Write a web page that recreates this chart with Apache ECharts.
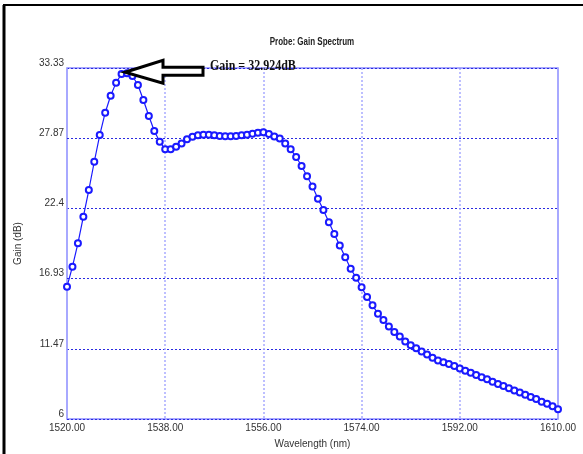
<!DOCTYPE html>
<html>
<head>
<meta charset="utf-8">
<script src="https://cdn.jsdelivr.net/npm/echarts@6/dist/echarts.min.js"></script>
<style>
  html, body { margin: 0; padding: 0; background: #fff; }
  #main { width: 583px; height: 454px; }
</style>
</head>
<body>
<div id="main"></div>
<script>
// wavelength start / step (nm), one sample per nm
var wlStart = 1520;
var wlStep = 1;
var gain = [
	16.30, 17.86, 19.68, 21.75, 23.83, 26.03, 28.11, 29.85, 31.17, 32.19,
	32.86, 32.924, 32.71, 32.01, 30.84, 29.59, 28.42, 27.59,
	27.00, 27.00, 27.20, 27.46, 27.78, 27.98, 28.09, 28.14, 28.14, 28.09,
	28.04, 28.01, 28.01, 28.04, 28.09, 28.14, 28.22, 28.29, 28.32, 28.20, 28.00,
	27.85, 27.45, 27.00, 26.40, 25.70, 24.90, 24.10, 23.15, 22.27, 21.32,
	20.40, 19.50, 18.60, 17.70, 17.00, 16.25, 15.50,
	14.85, 14.20, 13.70, 13.20, 12.78, 12.43, 12.04, 11.74, 11.51, 11.25,
	11.02, 10.77, 10.56, 10.42, 10.29, 10.12, 9.93, 9.76, 9.61, 9.42,
	9.25, 9.09, 8.91, 8.73, 8.57, 8.40, 8.22, 8.06, 7.89, 7.71,
	7.56, 7.35, 7.18, 7.00, 6.75
];
var yTickLabels = ['6', '11.47', '16.93', '22.4', '27.87', '33.33'];
var peakIndex = 11;
var peakText = 'Gain = 32.924dB';
var titleText = 'Probe: Gain Spectrum';

var dom = document.getElementById("main");
var myChart = echarts.init(dom);

var seriesData = [];
for (var i = 0; i < gain.length; i++) {
	seriesData.push([wlStart + i * wlStep, gain[i]]);
}

var labelFont = "'Liberation Sans Narrow', 'Liberation Sans', Arial, sans-serif";

var option = {
	animation: false,
	grid: {
		left: 67,
		right: 25,
		top: 68,
		bottom: 35,
		show: true,
		borderColor: '#8c8cff',
		borderWidth: 1.5
	},
	xAxis: {
		type: 'value',
		min: 1520,
		max: 1610,
		interval: 18,
		name: 'Wavelength (nm)',
		nameLocation: 'middle',
		nameGap: 20,
		nameTextStyle: { fontFamily: labelFont, fontSize: 10, color: '#333' },
		axisLine: { show: false },
		axisTick: { show: false },
		axisLabel: {
			fontFamily: labelFont,
			fontSize: 10,
			color: '#333',
			margin: 4,
			formatter: function (v) { return v.toFixed(2); }
		},
		splitLine: {
			show: true,
			lineStyle: { color: '#a8aaff', width: 1.5, type: [2, 2] }
		}
	},
	yAxis: {
		type: 'value',
		min: 6,
		max: 33.33,
		interval: 5.466,
		name: 'Gain (dB)',
		nameLocation: 'middle',
		nameGap: 44,
		nameTextStyle: { fontFamily: labelFont, fontSize: 10, color: '#333' },
		axisLine: { show: false },
		axisTick: { show: false },
		axisLabel: {
			fontFamily: labelFont,
			fontSize: 10,
			color: '#333',
			margin: 3,
			verticalAlign: 'bottom',
			formatter: function (v) {
				var k = Math.round((v - 6) / 5.466);
				return yTickLabels[k] !== undefined ? yTickLabels[k] : '';
			}
		},
		splitLine: {
			show: true,
			lineStyle: { color: '#2a2ae0', width: 1, type: [2, 2] }
		}
	},
	series: [{
		type: 'line',
		data: seriesData,
		symbol: 'emptyCircle',
		symbolSize: 6,
		lineStyle: { color: '#1a1aff', width: 1.2 },
		itemStyle: { color: '#1a1aff', borderColor: '#1a1aff', borderWidth: 1.5 }
	}]
};

myChart.setOption(option);

// annotation arrow pointing at the peak
var tip = myChart.convertToPixel({ gridIndex: 0 }, seriesData[peakIndex]);
var tx = tip[0] - 2, ty = tip[1] - 1;
myChart.setOption({
	graphic: [
		{
			type: 'line',
			shape: { x1: 4, y1: 5, x2: 4, y2: 454 },
			style: { stroke: '#000', lineWidth: 3 }
		},
		{
			type: 'line',
			shape: { x1: 3, y1: 5, x2: 583, y2: 5 },
			style: { stroke: '#000', lineWidth: 2 }
		},
		{
			type: 'text',
			x: 312,
			y: 42,
			scaleX: 0.8,
			style: {
				text: titleText,
				fill: '#222',
				font: "bold 10px 'Liberation Sans', Arial, sans-serif",
				textAlign: 'center',
				textVerticalAlign: 'middle'
			}
		},
		{
			type: 'polygon',
			shape: {
				points: [
					[tx, ty], [tx + 38, ty - 12], [tx + 38, ty - 5], [tx + 78, ty - 5],
					[tx + 78, ty + 3], [tx + 38, ty + 3], [tx + 38, ty + 11]
				]
			},
			style: { fill: '#fff', stroke: '#000', lineWidth: 3, lineJoin: 'miter' },
			z: 100
		},
		{
			type: 'text',
			x: tx + 85,
			y: ty - 6,
			scaleX: 0.8,
			style: {
				text: peakText,
				fill: '#111',
				font: "bold 15px 'Liberation Serif', 'DejaVu Serif', serif",
				textVerticalAlign: 'middle'
			},
			z: 100
		}
	]
});
</script>
</body>
</html>
